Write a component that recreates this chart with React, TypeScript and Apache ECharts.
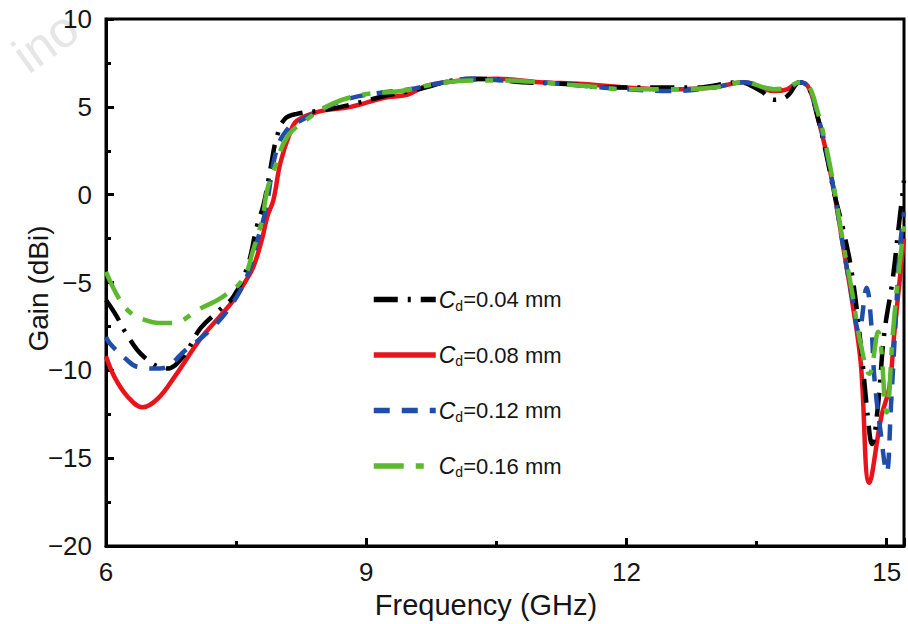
import React, { useEffect, useRef } from "react";
import * as echarts from "echarts";

const seriesNames = ["0.04", "0.08", "0.12", "0.16"];
const seriesColors = ["#000000", "#e8141c", "#1f4eaa", "#5cb82e"];

const cd004: [number, number][] = [
  [6.0, -6.0], [6.12, -6.9], [6.22, -7.8], [6.43, -9.2], [6.7, -9.9], [6.89, -9.2], [7.09, -7.6],
  [7.3, -6.6], [7.47, -5.8], [7.63, -4.1], [7.74, -1.8], [7.82, -0.5], [7.9, 1.6], [7.97, 3.3],
  [8.06, 4.3], [8.2, 4.6], [8.5, 4.8], [8.8, 5.1], [9.2, 5.6], [9.6, 6.0], [10.0, 6.5], [10.3, 6.6],
  [10.8, 6.4], [11.3, 6.3], [11.8, 6.1], [12.3, 6.1], [12.8, 6.1], [13.3, 6.4], [13.55, 5.9],
  [13.7, 5.4], [13.85, 5.6], [14.0, 6.4], [14.1, 6.1], [14.2, 4.5], [14.3, 2.4], [14.4, 0.0],
  [14.5, -2.0], [14.6, -4.5], [14.7, -8.5], [14.78, -12.5], [14.83, -14.2], [14.9, -12.0],
  [14.97, -8.0], [15.07, -4.8], [15.13, -2.2], [15.2, 0.8],
];

const cd008: [number, number][] = [
  [6.0, -9.2], [6.1, -10.4], [6.25, -11.5], [6.42, -12.1], [6.6, -11.6], [6.8, -10.3], [7.09, -8.2],
  [7.3, -7.0], [7.47, -6.0], [7.6, -5.0], [7.7, -4.1], [7.8, -2.5], [7.86, -1.25], [7.93, -0.3],
  [8.01, 1.8], [8.12, 3.5], [8.2, 4.2], [8.43, 4.7], [8.82, 5.0], [9.2, 5.5], [9.48, 5.7], [9.7, 6.2],
  [10.1, 6.5], [10.5, 6.6], [11.0, 6.4], [11.5, 6.3], [12.0, 6.1], [12.5, 6.0], [13.0, 6.1],
  [13.35, 6.4], [13.7, 5.9], [13.85, 6.0], [14.0, 6.4], [14.1, 6.1], [14.2, 4.5], [14.3, 2.5],
  [14.4, 0.0], [14.5, -3.0], [14.6, -6.0], [14.7, -9.5], [14.8, -16.4], [14.94, -12.6],
  [15.03, -11.0], [15.09, -7.8], [15.2, -2.5],
];

const cd012: [number, number][] = [
  [6.0, -8.1], [6.05, -8.5], [6.24, -9.4], [6.36, -9.8], [6.62, -9.9], [6.93, -8.8], [7.2, -7.7],
  [7.43, -6.4], [7.63, -4.6], [7.74, -2.7], [7.84, -0.9], [7.97, 2.6], [8.12, 3.9], [8.24, 4.2],
  [8.5, 4.9], [8.82, 5.5], [9.16, 5.8], [9.5, 6.0], [9.8, 6.3], [10.2, 6.6], [10.6, 6.5], [11.0, 6.4],
  [11.5, 6.2], [12.0, 6.0], [12.5, 5.9], [13.0, 6.1], [13.35, 6.4], [13.7, 6.0], [13.85, 6.0],
  [14.0, 6.4], [14.1, 6.1], [14.2, 4.6], [14.3, 2.6], [14.4, 0.0], [14.5, -3.0], [14.6, -5.8],
  [14.68, -7.8], [14.77, -5.3], [14.82, -7.2], [14.86, -10.5], [14.93, -13.5], [15.0, -15.8],
  [15.05, -12.0], [15.1, -7.5], [15.15, -3.2], [15.2, -1.0],
];

const cd016: [number, number][] = [
  [6.0, -4.4], [6.16, -6.0], [6.3, -6.8], [6.43, -7.1], [6.6, -7.3], [6.77, -7.3], [7.08, -6.5],
  [7.35, -5.8], [7.58, -4.8], [7.7, -3.1], [7.8, -1.4], [7.86, 0.3], [7.95, 1.6], [8.09, 3.3],
  [8.32, 4.3], [8.62, 5.2], [8.97, 5.7], [9.4, 5.9], [9.8, 6.3], [10.2, 6.5], [10.6, 6.5], [11.0, 6.4],
  [11.5, 6.2], [12.0, 6.0], [12.5, 6.0], [13.0, 6.1], [13.35, 6.4], [13.7, 6.0], [13.85, 6.1],
  [14.0, 6.4], [14.1, 6.2], [14.2, 4.8], [14.3, 2.8], [14.4, 0.2], [14.5, -2.8], [14.6, -5.5],
  [14.7, -8.5], [14.8, -10.2], [14.9, -7.8], [15.0, -12.4], [15.07, -8.0], [15.13, -4.8],
  [15.2, -1.8],
];

const seriesData = [cd004, cd008, cd012, cd016];
const dashTypes: any[] = [[24, 10, 3, 10], "solid", [16, 12], [30, 12, 8, 12]];

const xTicks = [6, 9, 12, 15];
const yTicks = [-20, -15, -10, -5, 0, 5, 10];

const FONT = "'Liberation Sans', Arial, sans-serif";
const TXT = "#151515";

export default function App() {
  const ref = useRef<HTMLDivElement>(null);
  useEffect(() => {
    if (!ref.current) return;
    const chart = echarts.init(ref.current, null, { renderer: "svg" });
    const names = seriesNames.map((v) => `Cd=${v} mm`);
    chart.setOption({
      animation: false,
      backgroundColor: "#ffffff",
      grid: {
        left: 106,
        top: 19,
        right: 4,
        bottom: 77,
        show: true,
        borderColor: "#000",
        borderWidth: 3,
        backgroundColor: "transparent",
      },
      graphic: [
        {
          type: "text",
          left: 4,
          top: 2,
          rotation: 0.62,
          silent: true,
          z: -10,
          style: { text: "ino", fontSize: 50, fill: "#e6e6e6", fontFamily: FONT },
        },
      ],
      legend: {
        orient: "vertical",
        left: 366,
        top: 283,
        itemWidth: 62,
        itemHeight: 14,
        itemGap: 31,
        data: names,
        itemStyle: { opacity: 0 },
        lineStyle: { width: 5.5 },
        formatter: (name: string) => {
          const v = name.replace("Cd=", "");
          return `{i|C}{s|d}{t|=${v}}`;
        },
        textStyle: {
          color: TXT,
          fontFamily: FONT,
          fontSize: 22,
          padding: [0, 0, 0, -2],
          rich: {
            i: { fontStyle: "italic", fontSize: 23, fontFamily: FONT, color: TXT },
            s: { fontSize: 14, fontFamily: FONT, color: TXT, verticalAlign: "bottom", padding: [12, 0, 0, 0] },
            t: { fontSize: 22, fontFamily: FONT, color: TXT },
          },
        },
      },
      xAxis: {
        type: "value",
        min: 6,
        max: 15.2,
        interval: 3,
        name: "Frequency (GHz)",
        nameLocation: "middle",
        nameGap: 44,
        nameTextStyle: { fontSize: 29, color: TXT, fontFamily: FONT, padding: [0, 38, 0, 0] },
        axisLine: { show: true, onZero: false, lineStyle: { color: "#000", width: 3 } },
        axisTick: { show: true, inside: true, length: 8, lineStyle: { color: "#000", width: 3 } },
        minorTick: { show: true, splitNumber: 2, length: 5, lineStyle: { color: "#000", width: 3 } },
        splitLine: { show: false },
        axisLabel: {
          margin: 13,
          fontSize: 26,
          color: TXT,
          fontFamily: FONT,
          formatter: (v: number) => (xTicks.some((t) => Math.abs(t - v) < 1e-6) ? String(v) : ""),
        },
      },
      yAxis: {
        type: "value",
        min: -20,
        max: 10,
        interval: 5,
        name: "Gain (dBi)",
        nameLocation: "middle",
        nameGap: 54,
        nameMoveOverlap: false,
        nameTextStyle: { fontSize: 28, color: TXT, fontFamily: FONT, padding: [0, 12, 0, 0] },
        axisLine: { show: true, onZero: false, lineStyle: { color: "#000", width: 3 } },
        axisTick: { show: true, inside: true, length: 8, lineStyle: { color: "#000", width: 3 } },
        minorTick: { show: true, splitNumber: 2, length: 5, lineStyle: { color: "#000", width: 3 } },
        splitLine: { show: false },
        axisLabel: {
          margin: 14,
          fontSize: 26,
          color: TXT,
          fontFamily: FONT,
          formatter: (v: number) =>
            yTicks.some((t) => Math.abs(t - v) < 1e-6) ? String(v).replace("-", "\u2212") : "",
        },
      },
      series: seriesData.map((d, i) => ({
        name: names[i],
        type: "line",
        data: d,
        smooth: 0.4,
        showSymbol: false,
        symbol: "none",
        z: i === 1 ? 2 : 3 + i,
        lineStyle: { color: seriesColors[i], width: 4.5, type: dashTypes[i] },
        itemStyle: { color: seriesColors[i] },
      })),
    });
    return () => chart.dispose();
  }, []);
  return (
    <div
      ref={ref}
      style={{ position: "fixed", left: 0, top: 0, width: 908, height: 624, background: "#fff" }}
    />
  );
}
